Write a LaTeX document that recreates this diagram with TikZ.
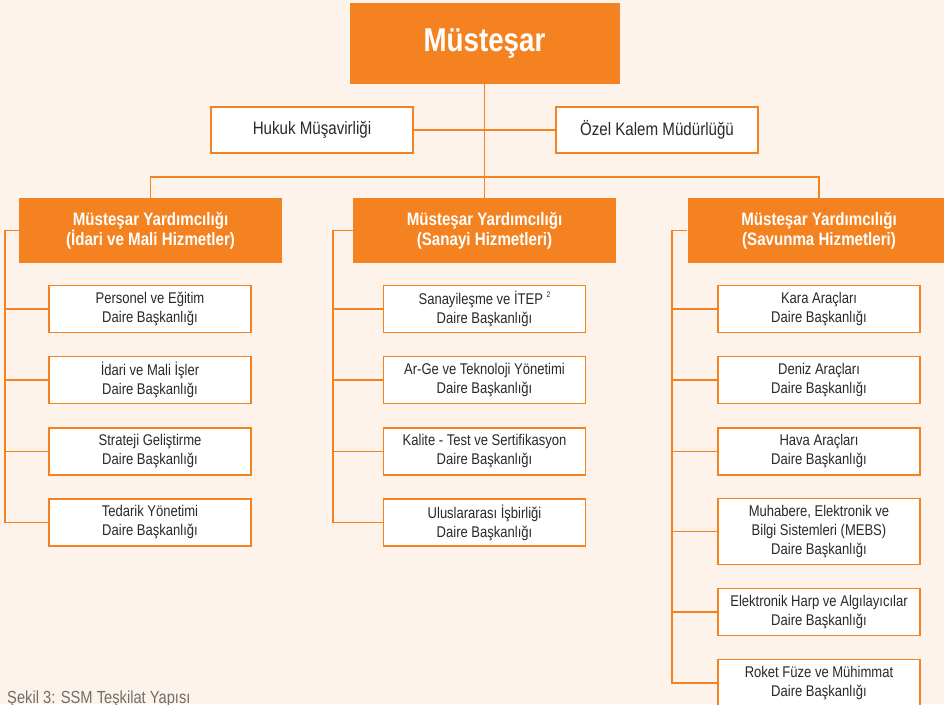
\documentclass[tikz,border=0pt]{standalone}
\usepackage{fontspec}
\setmainfont{Liberation Sans}[FakeStretch=0.84]
\usetikzlibrary{positioning, calc}

\definecolor{ssmorange}{HTML}{F58220}
\definecolor{ssmcream}{HTML}{FDF3EA}
\definecolor{ssmtext}{HTML}{2B2829}
\definecolor{ssmgray}{HTML}{6E6E6E}

\begin{document}
\begin{tikzpicture}[
    x=1pt, y=-1pt,
    % Styles
    head/.style={ % Top office
        rectangle,
        fill=ssmorange,
        text=white,
        font=\bfseries\fontsize{33}{36}\selectfont,
        minimum width=270pt,
        minimum height=81pt
    },
    staff/.style={ % Advisory offices
        rectangle,
        draw=ssmorange,
        line width=1.6pt,
        fill=white,
        text=ssmtext,
        font=\fontsize{18}{21}\selectfont,
        minimum width=202pt,
        minimum height=46pt
    },
    deputy/.style={ % Deputy undersecretaries
        rectangle,
        fill=ssmorange,
        text=white,
        align=center,
        font=\bfseries\fontsize{18}{20}\selectfont,
        minimum width=263pt,
        minimum height=65pt
    },
    dept/.style={ % Departments
        rectangle,
        draw=ssmorange,
        line width=1.6pt,
        fill=white,
        text=ssmtext,
        align=center,
        inner sep=2pt,
        font=\fontsize{15.5}{19}\selectfont,
        minimum width=202pt,
        minimum height=47pt
    },
    link/.style={ % Connectors
        draw=ssmorange,
        line width=1.6pt
    }
]

    % Background and page size
    \path[use as bounding box, fill=ssmcream] (0,0) rectangle (944,704);

    % Top level
    \node [head] (must) at (484.5,43.5) {Müsteşar};
    \node [staff] (hukuk) at (312,130) {Hukuk Müşavirliği};
    \node [staff] (ozel) at (657,130) {Özel Kalem Müdürlüğü};

    % Deputies
    \node [deputy] (vpidari) at (150.5,230.5) {Müsteşar Yardımcılığı\\(İdari ve Mali Hizmetler)};
    \node [deputy] (vpsanayi) at (484.5,230.5) {Müsteşar Yardımcılığı\\(Sanayi Hizmetleri)};
    \node [deputy] (vpsavunma) at (819,230.5) {Müsteşar Yardımcılığı\\(Savunma Hizmetleri)};

    % Departments under İdari ve Mali Hizmetler
    \node [dept] (personel) at (150,309) {Personel ve Eğitim\\Daire Başkanlığı};
    \node [dept] (idari) at (150,380) {İdari ve Mali İşler\\Daire Başkanlığı};
    \node [dept] (strateji) at (150,451.5) {Strateji Geliştirme\\Daire Başkanlığı};
    \node [dept] (tedarik) at (150,522.5) {Tedarik Yönetimi\\Daire Başkanlığı};

    % Departments under Sanayi Hizmetleri
    \node [dept] (itep) at (484.5,309) {Sanayileşme ve İTEP~\raisebox{0.9ex}{\fontsize{8}{8}\selectfont 2}\\Daire Başkanlığı};
    \node [dept] (arge) at (484.5,380) {Ar-Ge ve Teknoloji Yönetimi\\Daire Başkanlığı};
    \node [dept] (kalite) at (484.5,451.5) {Kalite - Test ve Sertifikasyon\\Daire Başkanlığı};
    \node [dept] (isbirligi) at (484.5,522.5) {Uluslararası İşbirliği\\Daire Başkanlığı};

    % Departments under Savunma Hizmetleri
    \node [dept] (kara) at (819,309) {Kara Araçları\\Daire Başkanlığı};
    \node [dept] (deniz) at (819,380) {Deniz Araçları\\Daire Başkanlığı};
    \node [dept] (hava) at (819,451.5) {Hava Araçları\\Daire Başkanlığı};
    \node [dept, minimum height=66pt] (mebs) at (819,531.5) {Muhabere, Elektronik ve\\Bilgi Sistemleri (MEBS)\\Daire Başkanlığı};
    \node [dept] (harp) at (819,612) {Elektronik Harp ve Algılayıcılar\\Daire Başkanlığı};
    \node [dept] (roket) at (819,683) {Roket Füze ve Mühimmat\\Daire Başkanlığı};

    % Caption
    \node [anchor=base west, inner sep=0pt, text=ssmgray, font=\fontsize{17.5}{20}\selectfont] (caption) at (7,703) {Şekil 3: SSM Teşkilat Yapısı};

    % Helper points
    \coordinate (bus) at (484.5,177);
    \coordinate (spineidari) at (5,230.5);
    \coordinate (spinesanayi) at (333,230.5);
    \coordinate (spinesavunma) at (672,230.5);

    % Top connectors
    \draw [link] (must.south) -- (vpsanayi.north);
    \draw [link] (hukuk) -- (ozel);
    \draw [link] (vpidari.north) |- (bus) -| (vpsavunma.north);

    % Spines
    \draw [link] (vpidari) -- (spineidari) |- (tedarik);
    \draw [link] (vpsanayi) -- (spinesanayi) |- (isbirligi);
    \draw [link] (vpsavunma) -- (spinesavunma) |- (roket);

    % Branches
    \draw [link] (personel) -- (personel -| spineidari);
    \draw [link] (idari) -- (idari -| spineidari);
    \draw [link] (strateji) -- (strateji -| spineidari);
    \draw [link] (itep) -- (itep -| spinesanayi);
    \draw [link] (arge) -- (arge -| spinesanayi);
    \draw [link] (kalite) -- (kalite -| spinesanayi);
    \draw [link] (kara) -- (kara -| spinesavunma);
    \draw [link] (deniz) -- (deniz -| spinesavunma);
    \draw [link] (hava) -- (hava -| spinesavunma);
    \draw [link] (mebs) -- (mebs -| spinesavunma);
    \draw [link] (harp) -- (harp -| spinesavunma);
\end{tikzpicture}
\end{document}
